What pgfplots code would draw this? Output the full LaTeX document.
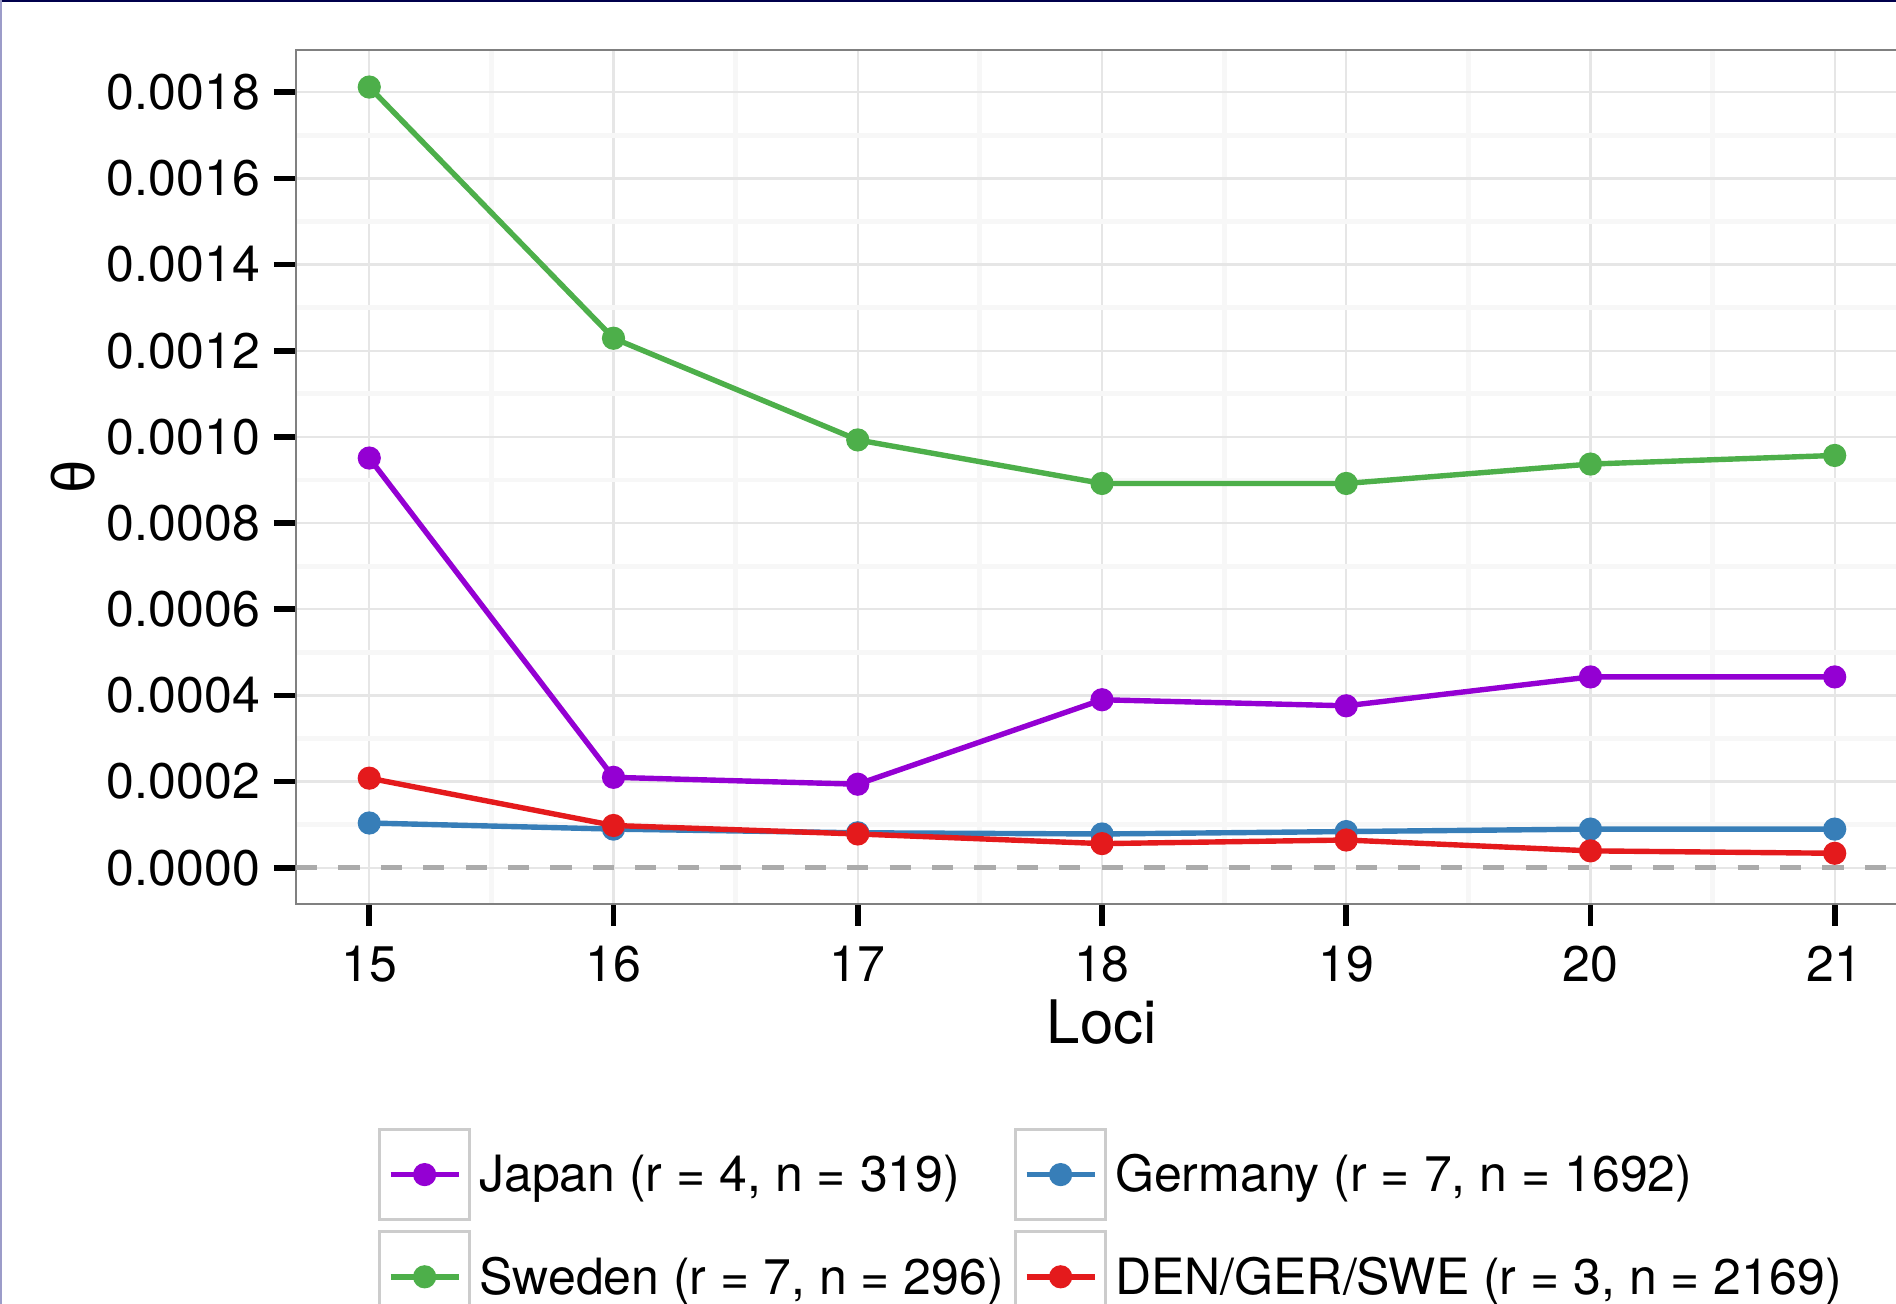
\documentclass[border=0pt]{standalone}
\usepackage{pgfplots}
\pgfplotsset{compat=1.18}
\usepackage{fontspec}
\setmainfont{TeX Gyre Heros}
\newfontfamily\grk{Liberation Sans}
\definecolor{cjapan}{HTML}{9400D3}
\definecolor{cswe}{HTML}{4DAF4A}
\definecolor{cger}{HTML}{377EB8}
\definecolor{cden}{HTML}{E41A1C}
\definecolor{gmaj}{HTML}{E6E6E6}
\definecolor{gmin}{HTML}{F7F7F7}
\definecolor{keyb}{HTML}{CCCCCC}
\begin{document}
\begin{tikzpicture}
\useasboundingbox (-74pt,-100pt) rectangle (400pt,226pt);
\clip (-74pt,-100pt) rectangle (400pt,226pt);
\begin{axis}[
  scale only axis, width=403pt, height=213.5pt,
  at={(0,0)}, anchor=south west,
  xmin=14.7, xmax=21.3, ymin=-0.000084, ymax=0.001898,
  xtick={15,16,17,18,19,20,21},
  ytick={0,0.0002,0.0004,0.0006,0.0008,0.0010,0.0012,0.0014,0.0016,0.0018},
  minor xtick={15.5,16.5,17.5,18.5,19.5,20.5},
  minor ytick={0.0001,0.0003,0.0005,0.0007,0.0009,0.0011,0.0013,0.0015,0.0017},
  scaled y ticks=false,
  yticklabel style={/pgf/number format/.cd, fixed, fixed zerofill, precision=4},
  xticklabel style={/pgf/number format/.cd, fixed, /tikz/yshift=-1.5pt},
  /pgf/number format/assume math mode=true,
  tick label style={font=\fontsize{12.5}{15}\selectfont, black},
  grid=both,
  major grid style={draw=gmaj, line width=0.6pt},
  minor grid style={draw=gmin, line width=1.2pt},
  minor tick length=0pt,
  major tick length=5.5pt,
  tick align=outside, tick pos=left,
  major tick style={black, line width=1.4pt},
  axis line style={draw=black!50, line width=0.7pt},
  xlabel={Loci},
  ylabel={{\grk θ}},
  xlabel style={font=\fontsize{15}{18}\selectfont, at={(axis description cs:0.5,0)}, anchor=center, yshift=-29.5pt},
  ylabel style={font=\fontsize{15}{18}\selectfont, at={(axis description cs:-0.1383,0.5)}, anchor=center},
  every axis plot/.append style={line width=1.35pt, mark=*, mark size=2.7pt, mark options={solid, line width=0.4pt}},
  legend columns=2, transpose legend,
  legend style={at={(axis description cs:0.0509,-0.2623)}, anchor=north west, draw=none, fill=none,
    inner sep=0pt, outer sep=0pt, row sep=2.25pt, column sep=2pt,
    font=\fontsize{12.5}{15}\selectfont,
    nodes={inner sep=0pt, anchor=base west},
    /tikz/every even column/.append style={column sep=2.5pt}},
  legend cell align=left,
  legend image code/.code={
    \draw[draw=keyb, line width=0.8pt, fill=white] (0pt,-6.95pt) rectangle (22.5pt,15.55pt);
    \draw[mark repeat=2, mark phase=2, #1] plot coordinates {(2.75pt,4.3pt) (11.25pt,4.3pt) (19.75pt,4.3pt)};
  },
]
\addplot[draw=black!33, line width=1.3pt, dash pattern=on 5.3pt off 5.3pt, mark=none, forget plot] coordinates {(14.7,0) (21.3,0)};
\addplot[color=cjapan] coordinates {(15,0.000951) (16,0.000210) (17,0.000194) (18,0.000390) (19,0.000376) (20,0.000443) (21,0.000443)};
\addlegendentry{Japan (r = 4, n = 319)}
\addplot[color=cswe] coordinates {(15,0.001812) (16,0.001229) (17,0.000993) (18,0.000892) (19,0.000892) (20,0.000937) (21,0.000957)};
\addlegendentry{Sweden (r = 7, n = 296)}
\addplot[color=cger] coordinates {(15,0.000104) (16,0.0000898) (17,0.0000813) (18,0.0000785) (19,0.0000841) (20,0.0000898) (21,0.0000898)};
\addlegendentry{Germany (r = 7, n = 1692)}
\addplot[color=cden] coordinates {(15,0.000208) (16,0.0000982) (17,0.0000785) (18,0.0000561) (19,0.0000645) (20,0.0000393) (21,0.0000337)};
\addlegendentry{DEN/GER/SWE (r = 3, n = 2169)}
\end{axis}
\draw[color=black!70!blue, line width=0.6pt] (-74pt,225.7pt) -- (400pt,225.7pt);
\draw[color=blue!30!gray!60, line width=0.6pt] (-73.7pt,-100pt) -- (-73.7pt,226pt);
\end{tikzpicture}
\end{document}
